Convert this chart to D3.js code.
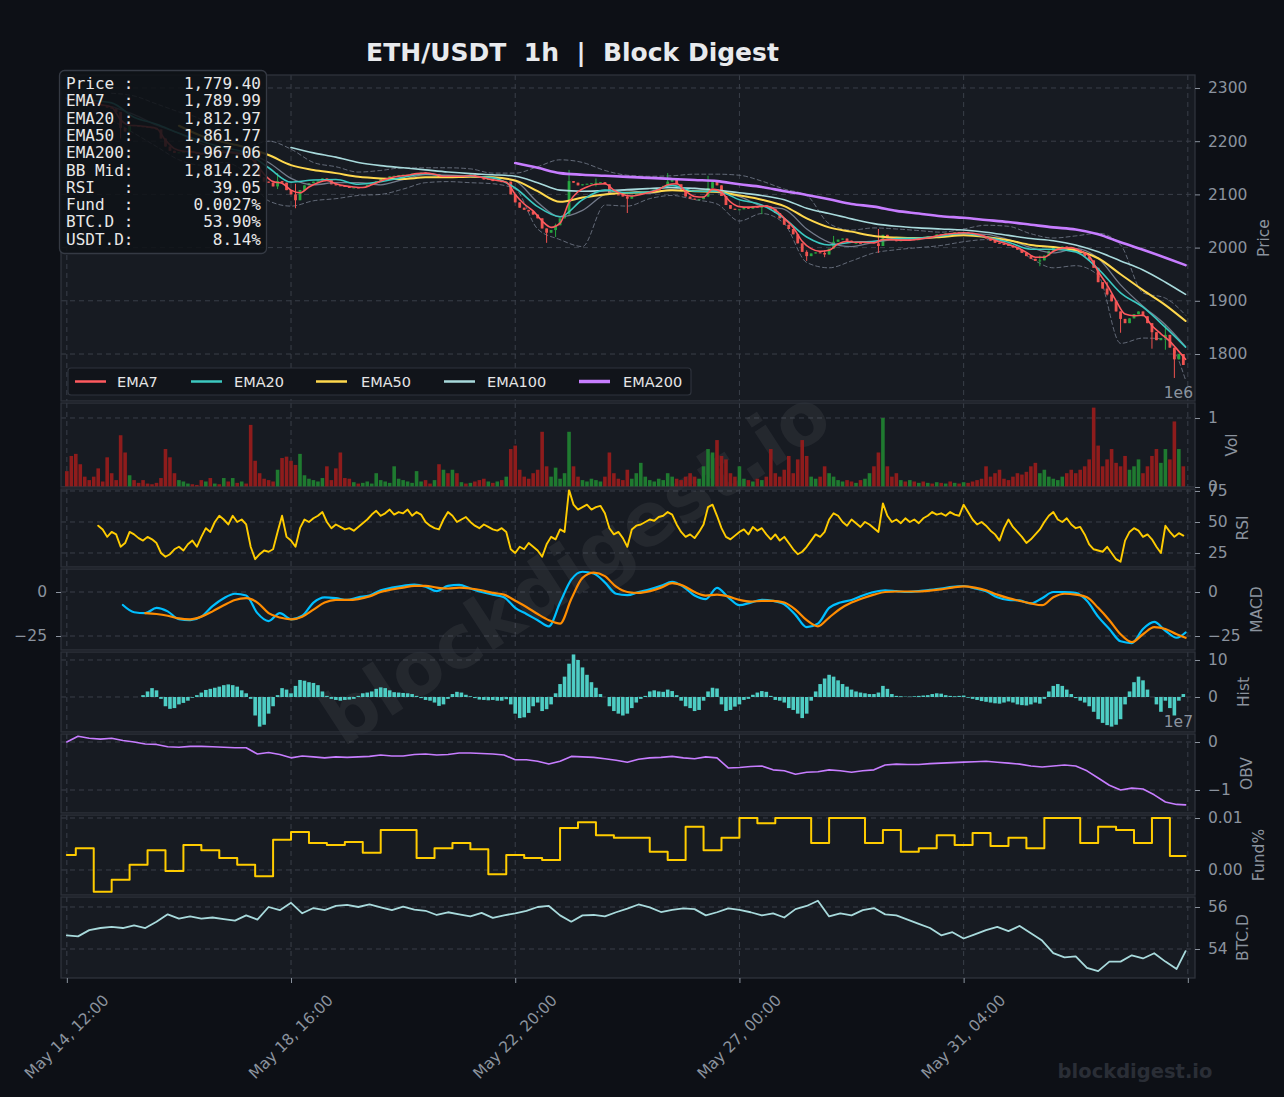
<!DOCTYPE html>
<html><head><meta charset="utf-8"><title>ETH/USDT 1h | Block Digest</title>
<script src="https://cdn.jsdelivr.net/npm/d3@7"></script>
<style>
html,body{margin:0;padding:0;background:#0d1016;overflow:hidden}
svg{display:block}
</style></head><body>
<svg id="chart" width="1284" height="1097"></svg>
<script>
// ================= DATA =================
const startTime = "2023-05-14T12:00:00Z";
const firstOpen = 2282;
// closes, one candle every 2 hours
const closes = [
2280,2279,2276,2275,2273,2272,2270,2268,2266,2263,
2262,2255,2225,2218,2230,2229,2228,2227,2226,2225,
2222,2205,2190,2182,2178,2179,2180,2181,2179,2176,
2175,2178,2176,2180,2178,2181,2177,2179,2175,2176,
2173,2165,2150,2132,2124,2122,2115,2125,2122,2108,
2100,2089,2108,2117,2121,2124,2126,2130,2128,2119,
2117,2116,2114,2113,2113,2112,2114,2118,2121,2125,
2129,2131,2134,2135,2136,2137,2137,2139,2140,2141,
2140,2137,2138,2132,2135,2133,2136,2132,2135,2133,
2137,2133,2131,2128,2129,2125,2127,2123,2124,2100,
2085,2075,2071,2068,2062,2055,2036,2028,2033,2042,
2055,2063,2125,2122,2117,2119,2120,2121,2122,2123,
2119,2102,2100,2099,2096,2092,2097,2100,2102,2104,
2106,2109,2112,2116,2124,2127,2119,2106,2096,2092,
2090,2091,2096,2112,2123,2117,2097,2080,2073,2071,
2072,2076,2073,2078,2075,2080,2077,2073,2065,2055,
2043,2035,2025,2008,1992,1984,1989,1991,1990,1987,
1998,2011,2015,2017,2013,2009,2009,2008,2010,2011,
2008,2003,2024,2018,2014,2012,2016,2013,2017,2014,
2019,2017,2021,2020,2025,2023,2027,2025,2029,2027,
2029,2027,2025,2023,2020,2017,2013,2009,2007,2005,
2004,2000,1996,1990,1984,1979,1975,1976,1985,1994,
2000,2001,2002,2001,1999,1995,1989,1983,1976,1962,
1935,1923,1912,1899,1880,1866,1858,1867,1875,1880,
1871,1858,1841,1826,1830,1836,1812,1790,1800,1779.4];
// notable wicks: [hour, high, low]
const wicks = [[24,2232,2205],[94,2140,2110],[102,2120,2074],[214,2035,2009],[218,2045,2020],
[224,2146,2060],[236,2130,2115],[250,2100,2065],[268,2140,2118],[286,2135,2095],
[309,2080,2063],[330,1995,1975],[338,1995,1982],[342,2022,2005],[362,2035,1990],
[434,1985,1965],[463,1935,1910],[470,1870,1840],[484,1850,1810],[490,1855,1808],[494,1810,1755]];
// EMA7, every 4 hours (last point = final hour)
const ema7 = [
2280,2278,2275,2272,2268,2264,2240,2230,2229,2227,
2224,2202,2186,2181,2180,2177,2177,2179,2179,2177,
2174,2160,2138,2124,2121,2108,2103,2114,2122,2126,
2120,2116,2114,2113,2118,2125,2131,2134,2136,2139,
2140,2138,2134,2134,2134,2135,2133,2129,2126,2123,
2100,2082,2069,2050,2038,2046,2085,2105,2114,2119,
2120,2108,2100,2097,2100,2104,2109,2118,2120,2106,
2096,2095,2110,2104,2086,2077,2076,2077,2078,2071,
2055,2038,2012,1998,1993,1995,2007,2012,2010,2010,
2009,2015,2015,2014,2014,2016,2018,2022,2025,2027,
2028,2027,2023,2017,2011,2006,2000,1991,1982,1982,
1993,1999,2000,1994,1984,1955,1930,1900,1875,1872,
1873,1853,1838,1824,1805,1790];
// every 10 hours
const ema20 = [2280,2277,2272,2245,2232,2215,2200,2188,2178,2150,2123,2127,2128,2119,2124,2132,2139,2134,2134,2131,2112,2077,2058,2090,2108,2103,2105,2117,2106,2106,2090,2080,2055,2020,2005,2010,2012,2017,2018,2022,2027,2020,2010,1997,1997,1992,1960,1915,1888,1850,1813];
const bbMid = [null,null,2265,2250,2230,2215,2195,2182,2178,2160,2130,2118,2122,2122,2118,2128,2137,2136,2134,2132,2125,2085,2058,2070,2100,2108,2102,2110,2112,2104,2096,2078,2072,2035,2010,2002,2010,2015,2016,2020,2026,2025,2015,2000,1990,1998,1980,1930,1890,1855,1814];
const bbUpper = [null,null,2290,2285,2270,2255,2240,2200,2190,2200,2185,2160,2152,2142,2145,2150,2150,2150,2148,2140,2140,2152,2165,2160,2145,2136,2134,2135,2138,2138,2136,2125,2110,2098,2045,2033,2037,2035,2032,2029,2035,2042,2040,2026,2018,2022,2027,2005,1915,1905,1873];
const bbLower = [null,null,2240,2215,2190,2165,2155,2160,2140,2088,2078,2088,2092,2098,2100,2110,2122,2124,2122,2120,2110,2035,2015,2002,2080,2078,2092,2098,2090,2082,2050,2064,2045,1972,1962,1975,1990,1996,2000,2004,2011,2015,2008,1980,1962,1966,1948,1820,1830,1828,1751];
const ema50 = [null,null,null,null,null,2229,2210,2198,2188,2174,2155,2146,2140,2133,2130,2129,2132,2132,2133,2132,2126,2106,2086,2094,2100,2103,2104,2108,2106,2105,2098,2090,2078,2055,2038,2030,2022,2019,2018,2020,2023,2020,2014,2005,2001,1995,1980,1950,1920,1892,1862];
const ema100 = [null,null,null,null,null,null,null,null,null,null,2188,2178,2170,2160,2154,2150,2146,2142,2139,2137,2134,2122,2108,2106,2107,2109,2111,2113,2111,2108,2103,2098,2090,2074,2064,2054,2045,2040,2037,2035,2033,2029,2023,2017,2013,2005,1992,1975,1958,1935,1912];
const ema200 = [null,null,null,null,null,null,null,null,null,null,null,null,null,null,null,null,null,null,null,null,2159,2150,2140,2137,2135,2133,2131,2129,2127,2125,2119,2114,2106,2099,2091,2082,2077,2069,2064,2059,2056,2052,2048,2043,2038,2034,2025,2010,1996,1981,1967];
// volume (millions), every 2 hours
const volume = [
0.23,0.45,0.48,0.33,0.15,0.1,0.15,0.27,0.08,0.43,
0.2,0.1,0.75,0.5,0.17,0.1,0.06,0.1,0.05,0.04,
0.06,0.13,0.55,0.43,0.2,0.1,0.08,0.05,0.04,0.03,
0.1,0.08,0.13,0.05,0.04,0.13,0.08,0.13,0.06,0.08,
0.05,0.9,0.38,0.2,0.12,0.1,0.08,0.25,0.42,0.44,
0.38,0.32,0.48,0.17,0.12,0.1,0.08,0.13,0.3,0.1,
0.27,0.5,0.13,0.12,0.07,0.05,0.06,0.08,0.05,0.2,
0.1,0.08,0.06,0.3,0.12,0.1,0.08,0.06,0.23,0.08,
0.1,0.05,0.1,0.33,0.25,0.2,0.25,0.2,0.07,0.05,
0.06,0.08,0.1,0.12,0.08,0.06,0.08,0.1,0.15,0.55,
0.6,0.25,0.15,0.12,0.2,0.25,0.8,0.3,0.15,0.28,
0.12,0.2,0.8,0.3,0.15,0.1,0.08,0.12,0.1,0.08,
0.15,0.5,0.2,0.12,0.1,0.25,0.12,0.2,0.35,0.15,
0.1,0.08,0.12,0.1,0.2,0.15,0.12,0.1,0.15,0.2,
0.15,0.12,0.3,0.55,0.5,0.68,0.45,0.4,0.2,0.15,
0.3,0.12,0.1,0.08,0.12,0.1,0.15,0.55,0.2,0.15,
0.25,0.45,0.2,0.4,0.68,0.45,0.15,0.12,0.15,0.3,
0.2,0.15,0.1,0.08,0.1,0.08,0.06,0.1,0.12,0.2,
0.3,0.5,1.0,0.3,0.15,0.2,0.1,0.08,0.1,0.08,
0.06,0.08,0.06,0.05,0.07,0.06,0.05,0.08,0.06,0.05,
0.07,0.06,0.08,0.1,0.12,0.3,0.15,0.2,0.25,0.12,
0.1,0.15,0.2,0.18,0.22,0.3,0.35,0.2,0.25,0.15,
0.12,0.1,0.15,0.2,0.25,0.2,0.25,0.3,0.4,1.15,
0.6,0.3,0.4,0.55,0.35,0.3,0.45,0.25,0.3,0.4,
0.2,0.3,0.45,0.55,0.35,0.55,0.4,0.95,0.55,0.3];
// RSI, every 2 hours
const rsi = [
null,null,null,null,null,null,null,47,44,38,
42,40,30,33,42,40,37,35,38,36,
33,25,22,24,28,30,27,32,35,30,
38,45,42,50,55,52,48,55,50,52,
48,30,20,24,27,26,28,42,55,38,
35,30,45,52,50,53,55,58,50,45,
48,46,44,45,43,46,49,52,56,59,
55,57,60,56,58,57,60,55,58,56,
50,47,45,44,52,58,55,50,52,54,
50,47,45,48,46,44,43,45,42,28,
25,30,28,33,30,27,22,32,38,36,
44,42,76,64,60,62,64,60,62,63,
57,45,40,42,37,30,44,47,48,50,
52,51,54,55,58,56,48,42,38,40,
37,42,48,62,64,55,45,38,36,39,
42,44,40,46,43,45,40,36,40,35,
38,33,28,24,26,30,35,40,38,42,
52,57,55,50,47,52,49,46,50,48,
45,42,65,55,50,52,49,53,50,52,
49,53,55,58,56,57,55,58,56,55,
64,58,52,48,50,47,43,40,35,45,
52,46,42,38,33,36,40,44,50,55,
58,52,50,53,48,45,46,40,32,28,
27,26,30,25,20,18,35,42,45,43,
38,40,36,30,25,47,42,38,41,39];
// MACD & signal, every 5 hours
const macd = [null,null,null,null,null,-7.4,-11.5,-12,-9,-11,
-15.5,-16,-14,-8,-3.5,-1,-2,-12,-16.5,-12,
-15.5,-13.5,-6,-3,-3.5,-4.5,-3,-2,1,2.5,
3.5,4.2,3,0.5,3.5,4,2,0,-1.5,-3,
-9,-12.5,-16,-19.5,-6,7,11.5,10.5,5.5,-1,
-1.8,0,1.5,3.5,5.8,3,-2,-4,2.3,-3,
-7.5,-6,-4.5,-5,-7,-13,-20,-18,-9,-6,
-4.5,-2,0,1,0.5,0,0.5,1.2,2,3,
3.4,2,0.5,-3,-4.5,-4.8,-6.5,-3.5,0,0,
-0.5,-5,-14,-21,-28,-29,-21,-17,-22,-26,
-23];
const macdSignal = [null,null,null,null,null,null,null,-12,-12.5,-13.5,
-15,-15.5,-14,-11,-7.5,-4.5,-3.5,-6,-12,-14.5,
-15.5,-14,-10,-6,-4.5,-4.5,-4,-2.5,0,1.5,
2.5,3.5,3.5,2.5,2,2.5,2,1,-0.5,-1.5,
-5,-8.5,-12.5,-16,-18,-4,8,11,9,3,
0,-0.5,0.5,2.5,5,3.5,0,-2,-1.5,-2.5,
-4.5,-5.5,-5,-5,-6,-10,-16,-19.5,-14.5,-9.5,
-6,-3.5,-1.5,0,0.3,0.3,0.3,0.8,1.5,2.5,
3.2,2.5,1,-1.5,-3.5,-5,-6.5,-7.5,-3,-1,
-1.5,-3,-9,-16,-24,-28.5,-24,-20,-21,-24,
-26];
// MACD histogram, every 2 hours
const macdHist = [
null,null,null,null,null,null,null,null,null,null,
null,null,null,null,null,null,null,0.5,1.5,2.4,
1.8,-0.5,-2.5,-3.2,-3,-2,-1.6,-1,-0.2,0.5,
1.2,1.9,2.2,2.5,2.8,3.2,3.4,3.2,2.8,1.8,
1.0,-0.5,-5,-8,-7.5,-4.5,-2.5,0.5,2.4,2,
1,3,4.6,4.4,4,3.8,3.2,1.5,0.3,-0.5,
-0.8,-1,-0.8,-0.7,-0.5,0.3,1.0,1.2,1.5,2.2,
2.6,2.4,1.8,1.3,1.2,1.1,1.0,0.8,0.3,-0.3,
-0.8,-1,-1.5,-2.4,-2,-0.5,0.8,1.4,1.2,0.6,
0.2,-0.3,-0.7,-0.8,-0.9,-0.8,-1,-1,-0.6,-2,
-4.5,-5.7,-5.5,-4.3,-2.5,-1.5,-3.8,-3.3,-2,1.0,
3.5,5.5,9,11.5,10,8,6,4,2.5,0.8,
0,-2.5,-3.8,-4.5,-5,-4.5,-3,-1.5,-0.5,0.3,
1.5,1.8,1.5,1.4,2,1.6,0.5,-1,-2.5,-3,
-3.8,-3.5,-1,1.5,2.5,2.3,-2,-3.8,-3.5,-2.6,
-2,-0.8,-0.5,0.6,1.2,1.6,1.4,0.3,-0.8,-1,
-1.5,-3,-3.5,-4.5,-5.7,-4.5,-1,1.5,3.5,5,
6,5.5,4.5,3.5,2.8,2,1.5,1.2,1.0,0.8,
0.8,1.2,3,2.2,0.8,0.3,0.2,0.1,0.1,0.2,
0.3,0.4,0.5,0.8,1,0.9,0.5,0.3,0.2,0.3,
0.4,-0.2,-0.5,-0.8,-1.1,-1.3,-1.5,-1.7,-1.8,-1.5,
-1.2,-1.5,-2,-2.2,-2.3,-2,-1.5,-1.8,-0.5,1.5,
3,3.5,3,2,0.8,-0.3,-1,-1.5,-2.5,-4,
-6,-7,-7.6,-8,-7.5,-6,-2,1.5,4,5.5,
4.5,2,0,-2,-4,-1,-3,-5,-1,0.8];
// OBV (x1e7), every 5 hours
const obv = [
0.0,0.12,0.08,0.06,0.08,0.03,0.0,-0.04,-0.05,-0.1,
-0.11,-0.09,-0.09,-0.1,-0.11,-0.12,-0.12,-0.25,-0.22,-0.26,
-0.33,-0.29,-0.31,-0.33,-0.31,-0.32,-0.31,-0.3,-0.27,-0.29,
-0.29,-0.26,-0.25,-0.27,-0.26,-0.23,-0.23,-0.24,-0.25,-0.27,
-0.37,-0.37,-0.4,-0.46,-0.4,-0.3,-0.31,-0.32,-0.35,-0.38,
-0.42,-0.36,-0.33,-0.32,-0.3,-0.33,-0.35,-0.31,-0.33,-0.54,
-0.53,-0.51,-0.5,-0.58,-0.6,-0.67,-0.63,-0.62,-0.58,-0.6,
-0.63,-0.6,-0.58,-0.48,-0.46,-0.47,-0.47,-0.45,-0.44,-0.43,
-0.42,-0.41,-0.4,-0.42,-0.44,-0.46,-0.5,-0.52,-0.5,-0.48,
-0.5,-0.6,-0.75,-0.9,-1.0,-0.96,-0.98,-1.1,-1.25,-1.3,
-1.31];
// funding rate (%), one value per 8h funding period (first period starts at hour 0, then 4, 12, 20 ...)
const funding = [0.0029,0.0042,-0.0042,-0.0019,0.001,0.0038,-0.0002,0.0048,0.0038,0.0023,0.001,-0.0012,
0.0058,0.0073,0.0052,0.0048,0.0054,0.0033,0.0077,0.0077,0.0023,0.0042,
0.0052,0.004,-0.0008,0.0029,0.0023,0.0019,0.0081,0.0092,0.0067,0.0062,
0.0062,0.0035,0.0019,0.0083,0.0038,0.0062,0.01,0.009,0.01,0.01,
0.0052,0.01,0.01,0.0052,0.0077,0.0035,0.0042,0.0067,0.0048,0.0071,
0.0046,0.0062,0.0042,0.01,0.01,0.0052,0.0083,0.0077,0.0052,0.01,0.0027];
// BTC dominance (%), every 5 hours
const btcDom = [
54.65,54.6,54.9,55.0,55.05,55.0,55.12,55.0,55.3,55.65,
55.45,55.55,55.45,55.5,55.42,55.35,55.6,55.4,56.0,55.85,
56.2,55.7,55.95,55.85,56.05,56.1,56.0,56.12,55.98,55.85,
56.02,55.88,55.82,55.62,55.75,55.65,55.55,55.72,55.48,55.6,
55.7,55.82,56.0,56.05,55.6,55.3,55.6,55.62,55.55,55.75,
55.92,56.12,55.98,55.76,55.86,55.93,55.9,55.6,55.75,55.93,
55.86,55.75,55.6,55.7,55.5,55.9,56.05,56.3,55.55,55.7,
55.6,55.85,55.95,55.65,55.6,55.4,55.2,55.0,54.65,54.8,
54.5,54.7,54.9,55.05,54.85,55.1,54.75,54.4,53.8,53.6,
53.65,53.1,52.95,53.4,53.4,53.7,53.55,53.8,53.4,53.05,
53.9];
// ticks & labels
const xTickHours = [0,100,200,300,400,500];
const xTickLabels = ["May 14, 12:00","May 18, 16:00","May 22, 20:00","May 27, 00:00","May 31, 04:00",""];
const priceTicks = [1800,1900,2000,2100,2200,2300];
const volTicks = [0,1];
const rsiTicks = [25,50,75];
const macdTicks = [-25,0];
const macdTickLabels = ["\u221225","0"];
const histTicks = [0,10];
const obvTicks = [-1,0];
const obvTickLabels = ["\u22121","0"];
const fundTicks = [0,0.01];
const fundTickLabels = ["0.00","0.01"];
const btcTicks = [54,56];
const infoLabels = ["Price :","EMA7  :","EMA20 :","EMA50 :","EMA200:","BB Mid:","RSI   :","Fund  :","BTC.D :","USDT.D:"];
const infoValues = ["1,779.40","1,789.99","1,812.97","1,861.77","1,967.06","1,814.22","39.05","0.0027%","53.90%","8.14%"];
const legendNames = ["EMA7","EMA20","EMA50","EMA100","EMA200"];

// ================= CHART =================
const C = {bg:"#0d1016", panel:"#171b22", border:"#2e333c", grid:"#3a3f49", tick:"#8b939e",
  up:"#26a641", down:"#ef5350", volUp:"#1f7a30", volDown:"#8e1c1c",
  ema7:"#ff5a5f", ema20:"#3cc8c0", ema50:"#ffd84d", ema100:"#a8dadc", ema200:"#c77dff",
  bb:"#7d8596", rsi:"#ffcc00", macd:"#00bfff", sig:"#ff8c00", hist:"#4ecdc4", obv:"#c77dff", fund:"#ffcc00", btc:"#a8dadc"};
const FONT = "DejaVu Sans, sans-serif";
const svg = d3.select("#chart");
svg.append("rect").attr("width",1284).attr("height",1097).attr("fill",C.bg);

const X0 = 61, X1 = 1195;
const t0 = new Date(startTime).getTime();
const T = h => new Date(t0 + h*3600e3);
const x = d3.scaleUtc().domain([T(-2.6), T(503.2)]).range([X0, X1]);

const panels = [
 {key:"price", y0:75,  y1:401, dom:[1711.7,2324.4], ticks:priceTicks, labels:priceTicks.map(String), name:"Price", lx:1263},
 {key:"vol",   y0:403, y1:487, dom:[0,1.217], ticks:volTicks, labels:volTicks.map(String), name:"Vol", lx:1231},
 {key:"rsi",   y0:489, y1:567, dom:[13.7,76.6], ticks:rsiTicks, labels:rsiTicks.map(String), name:"RSI", lx:1242},
 {key:"macd",  y0:569, y1:650, dom:[-32.95,13.07], ticks:macdTicks, labels:macdTickLabels, name:"MACD", lx:1256.5},
 {key:"hist",  y0:652, y1:732, dom:[-9.46,12.16], ticks:histTicks, labels:histTicks.map(String), name:"Hist", lx:1243},
 {key:"obv",   y0:734, y1:813, dom:[-1.479,0.167], ticks:obvTicks, labels:obvTickLabels, name:"OBV", lx:1246},
 {key:"fund",  y0:815, y1:895, dom:[-0.00481,0.01058], ticks:fundTicks, labels:fundTickLabels, name:"Fund%", lx:1258.5},
 {key:"btcd",  y0:897, y1:978, dom:[52.62,56.476], ticks:btcTicks, labels:btcTicks.map(String), name:"BTC.D", lx:1242.5},
];
const P = {};
const defs = svg.append("defs");
panels.forEach(p => {
  P[p.key] = p;
  p.y = d3.scaleLinear().domain(p.dom).range([p.y1, p.y0]);
  defs.append("clipPath").attr("id","clip-"+p.key).append("rect")
    .attr("x",X0).attr("y",p.y0).attr("width",X1-X0).attr("height",p.y1-p.y0);
  svg.append("rect").attr("x",X0).attr("y",p.y0).attr("width",X1-X0).attr("height",p.y1-p.y0).attr("fill",C.panel);
  const gg = svg.append("g").attr("clip-path","url(#clip-"+p.key+")");
  xTickHours.forEach(h => gg.append("line").attr("x1",x(T(h))).attr("x2",x(T(h))).attr("y1",p.y0).attr("y2",p.y1)
     .attr("stroke",C.grid).attr("stroke-width",1).attr("stroke-dasharray","5,4"));
  p.ticks.forEach(v => gg.append("line").attr("x1",X0).attr("x2",X1).attr("y1",p.y(v)).attr("y2",p.y(v))
     .attr("stroke",C.grid).attr("stroke-width",1).attr("stroke-dasharray","5,4"));
});

// watermark
svg.append("text").attr("transform","translate(575,566) rotate(-33)")
  .attr("text-anchor","middle").attr("dominant-baseline","central")
  .attr("font-family",FONT).attr("font-weight","bold").attr("font-size",74)
  .attr("fill","#ffffff").attr("opacity",0.055).text("blockdigest.io");

panels.forEach(p => { p.g = svg.append("g").attr("clip-path","url(#clip-"+p.key+")"); });

const series = (arr, step) => arr.map((v,i) => ({h: Math.min(i*step, 499), v}));
function drawLine(p, data, color, width, curve, dash, opacity){
  const line = d3.line().defined(d => d.v != null)
    .x(d => x(T(d.h))).y(d => p.y(d.v)).curve(curve || d3.curveLinear);
  p.g.append("path").datum(data).attr("d", line).attr("fill","none")
    .attr("stroke", color).attr("stroke-width", width)
    .attr("stroke-dasharray", dash || null).attr("opacity", opacity == null ? 1 : opacity)
    .attr("stroke-linejoin","round").attr("stroke-linecap","round");
}

// ---- price panel ----
const pr = P.price;
drawLine(pr, series(bbUpper,10), C.bb, 1, d3.curveMonotoneX, "4,3", 0.75);
drawLine(pr, series(bbLower,10), C.bb, 1, d3.curveMonotoneX, "4,3", 0.75);
const candles = closes.map((c,j) => {
  const o = j === 0 ? firstOpen : closes[j-1];
  return {h: 2*j, o, c, hi: Math.max(o,c), lo: Math.min(o,c)};
});
wicks.forEach(([h,hi,lo]) => { const d = candles[Math.round(h/2)]; d.hi = Math.max(d.hi,hi); d.lo = Math.min(d.lo,lo); });
const cg = pr.g.append("g");
cg.selectAll("line").data(candles).join("line")
  .attr("x1", d => x(T(d.h))).attr("x2", d => x(T(d.h)))
  .attr("y1", d => pr.y(d.hi)).attr("y2", d => pr.y(d.lo))
  .attr("stroke", d => d.c >= d.o ? C.up : C.down).attr("stroke-width", 1);
cg.selectAll("rect").data(candles).join("rect")
  .attr("x", d => x(T(d.h)) - 1.4).attr("width", 2.8)
  .attr("y", d => pr.y(Math.max(d.o,d.c)))
  .attr("height", d => Math.max(1, Math.abs(pr.y(d.o) - pr.y(d.c))))
  .attr("fill", d => d.c >= d.o ? C.up : C.down);
drawLine(pr, series(bbMid,10), C.bb, 1.3, d3.curveMonotoneX, null, 0.9);
drawLine(pr, series(ema200,10), C.ema200, 2.6, d3.curveMonotoneX);
drawLine(pr, series(ema100,10), C.ema100, 1.6, d3.curveMonotoneX);
drawLine(pr, series(ema50,10), C.ema50, 2, d3.curveMonotoneX);
drawLine(pr, series(ema20,10), C.ema20, 1.6, d3.curveMonotoneX);
drawLine(pr, series(ema7,4), C.ema7, 1.6, d3.curveMonotoneX);

// ---- volume ----
const pv = P.vol;
pv.g.selectAll("rect").data(volume.map((v,j) => ({h:2*j, v, up: candles[j].c >= candles[j].o})))
  .join("rect").attr("x", d => x(T(d.h)) - 1.8).attr("width", 3.6)
  .attr("y", d => pv.y(d.v)).attr("height", d => pv.y(0) - pv.y(d.v))
  .attr("fill", d => d.up ? C.volUp : C.volDown);

// ---- RSI ----
drawLine(P.rsi, series(rsi,2), C.rsi, 1.9);

// ---- MACD ----
drawLine(P.macd, series(macd,5), C.macd, 2.2, d3.curveMonotoneX);
drawLine(P.macd, series(macdSignal,5), C.sig, 2.2, d3.curveMonotoneX);

// ---- Hist ----
const ph = P.hist;
ph.g.selectAll("rect").data(series(macdHist,2).filter(d => d.v != null)).join("rect")
  .attr("x", d => x(T(d.h)) - 1.8).attr("width", 3.6)
  .attr("y", d => Math.min(ph.y(0), ph.y(d.v))).attr("height", d => Math.abs(ph.y(d.v) - ph.y(0)))
  .attr("fill", C.hist);

// ---- OBV ----
drawLine(P.obv, series(obv,5), C.obv, 1.6);

// ---- Funding ----
const fundData = funding.map((v,i) => ({h: i === 0 ? 0 : 4 + 8*(i-1), v}));
fundData.push({h: 499, v: funding[funding.length-1]});
drawLine(P.fund, fundData, C.fund, 2, d3.curveStepAfter);

// ---- BTC.D ----
drawLine(P.btcd, series(btcDom,5), C.btc, 1.8);

// ---- borders & axes ----
panels.forEach(p => {
  svg.append("rect").attr("x",X0).attr("y",p.y0).attr("width",X1-X0).attr("height",p.y1-p.y0)
    .attr("fill","none").attr("stroke",C.border).attr("stroke-width",1.3);
  const ax = d3.axisRight(p.y).tickValues(p.ticks).tickFormat((d,i) => p.labels[i]).tickSize(5).tickPadding(8);
  const ag = svg.append("g").attr("transform",`translate(${X1},0)`).call(ax);
  ag.select(".domain").remove();
  ag.selectAll("line").attr("stroke",C.tick);
  ag.selectAll("text").attr("fill",C.tick).attr("font-size",15.5).attr("font-family",FONT);
  svg.append("text").attr("transform",`translate(${p.lx},${(p.y0+p.y1)/2}) rotate(-90)`)
    .attr("text-anchor","middle").attr("dy","0.36em").attr("font-family",FONT).attr("font-size",15.5)
    .attr("fill",C.tick).text(p.name);
});
// left axis for MACD
{
  const p = P.macd;
  const ax = d3.axisLeft(p.y).tickValues(p.ticks).tickFormat((d,i) => p.labels[i]).tickSize(5).tickPadding(9);
  const ag = svg.append("g").attr("transform",`translate(${X0},0)`).call(ax);
  ag.select(".domain").remove();
  ag.selectAll("line").attr("stroke",C.tick);
  ag.selectAll("text").attr("fill",C.tick).attr("font-size",15.5).attr("font-family",FONT);
}
// offset texts
svg.append("text").attr("x",1193).attr("y",397.5).attr("text-anchor","end").attr("font-family",FONT)
  .attr("font-size",15.5).attr("fill",C.tick).text("1e6");
svg.append("text").attr("x",1193).attr("y",726.5).attr("text-anchor","end").attr("font-family",FONT)
  .attr("font-size",15.5).attr("fill",C.tick).text("1e7");

// x axis
{
  const xa = d3.axisBottom(x).tickValues(xTickHours.map(T)).tickSize(5).tickFormat("");
  const ag = svg.append("g").attr("transform","translate(0,978)").call(xa);
  ag.select(".domain").remove();
  ag.selectAll("line").attr("stroke",C.tick);
  xTickHours.forEach((h,i) => {
    if (!xTickLabels[i]) return;
    svg.append("text").attr("transform",`translate(${x(T(h))},1037) rotate(-45)`)
      .attr("text-anchor","middle").attr("dominant-baseline","central")
      .attr("font-family",FONT).attr("font-size",15.5).attr("fill",C.tick).text(xTickLabels[i]);
  });
}

// legend
{
  const lg = svg.append("g");
  lg.append("rect").attr("x",68).attr("y",368).attr("width",623).attr("height",27).attr("rx",3)
    .attr("fill","#11141a").attr("stroke",C.border).attr("stroke-width",1.2);
  const cols = [C.ema7,C.ema20,C.ema50,C.ema100,C.ema200];
  const widths = [2.5,2.5,2.5,2.5,3.5];
  const sx = [75,191,316,444,579], tx = [117,234,361,487,623];
  legendNames.forEach((n,i) => {
    lg.append("line").attr("x1",sx[i]).attr("x2",sx[i]+31).attr("y1",381.5).attr("y2",381.5)
      .attr("stroke",cols[i]).attr("stroke-width",widths[i]);
    lg.append("text").attr("x",tx[i]).attr("y",381.5).attr("dy","0.36em").attr("font-family",FONT)
      .attr("font-size",14.5).attr("fill","#e6e6e6").text(n);
  });
}

// info box
{
  const ib = svg.append("g");
  ib.append("rect").attr("x",59.5).attr("y",70.5).attr("width",207).attr("height",183).attr("rx",5)
    .attr("fill","#0f1217").attr("fill-opacity",0.88).attr("stroke","#353a44").attr("stroke-width",1.3);
  infoLabels.forEach((l,i) => {
    const yb = 89 + i*17.3;
    ib.append("text").attr("x",66).attr("y",yb).attr("font-family","DejaVu Sans Mono, monospace")
      .attr("font-size",16).attr("fill","#e8e8e8").style("white-space","pre").text(l);
    ib.append("text").attr("x",261).attr("y",yb).attr("text-anchor","end").attr("font-family","DejaVu Sans Mono, monospace")
      .attr("font-size",16).attr("fill","#e8e8e8").text(infoValues[i]);
  });
}

// title
svg.append("text").attr("x",572.5).attr("y",61).attr("text-anchor","middle").attr("font-family",FONT)
  .attr("font-weight","bold").attr("font-size",25).attr("fill","#e8eaed").style("white-space","pre")
  .text("ETH/USDT  1h  |  Block Digest");
// footer watermark
svg.append("text").attr("x",1135).attr("y",1078).attr("text-anchor","middle").attr("font-family",FONT)
  .attr("font-weight","bold").attr("font-size",19.5).attr("fill","#2a2e36").text("blockdigest.io");
</script></body></html>
